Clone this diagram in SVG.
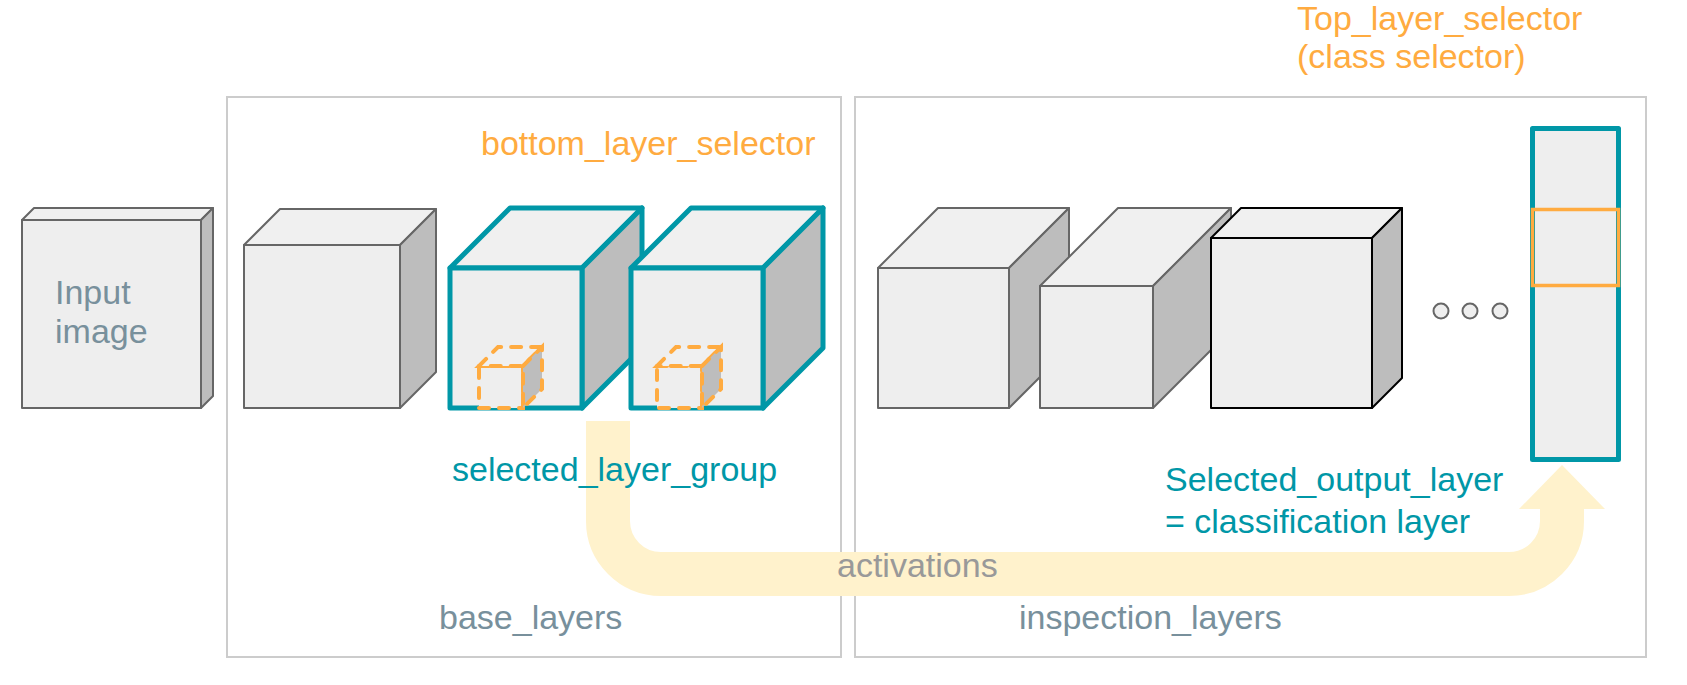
<svg xmlns="http://www.w3.org/2000/svg" width="1687" height="685" viewBox="0 0 1687 685">
<style>
.t{font-family:"Liberation Sans",Arial,sans-serif;font-size:34px}
.bg{fill:#78909c}
.or{fill:#ffab40}
.tl{fill:#0097a7}
.gy{fill:#999999}
.frame{fill:none;stroke:#cccccc;stroke-width:2}
.cg{stroke:#666666;stroke-width:2;stroke-linejoin:round}
.ck{stroke:#000000;stroke-width:2;stroke-linejoin:round}
.ct{stroke:#0097a7;stroke-width:5;stroke-linejoin:round}
.cd{stroke:#ffab40;stroke-width:4;stroke-dasharray:10 10;stroke-linecap:round}
.fr{fill:#eeeeee}
.tp{fill:#f0f0f0}
.sd{fill:#bdbdbd}
</style>
<rect width="1687" height="685" fill="#ffffff"/>
<g id="base_layers_frame"><rect class="frame" x="227" y="97" width="614" height="560"/></g>
<g id="inspection_layers_frame"><rect class="frame" x="855" y="97" width="791" height="560"/></g>
<g id="connectors">
<path d="M608,421 V521 A53,53 0 0 0 661,574 H1509 A53,53 0 0 0 1562,521 V508" fill="none" stroke="#fff2cc" stroke-width="44"/>
<polygon points="1519,509 1562,465 1605,509" fill="#fff2cc"/>
</g>
<g id="input_image" class="cg">
<rect class="fr" x="22" y="220" width="179" height="188"/>
<polygon class="tp" points="22,220 34,208 213,208 201,220"/>
<polygon class="sd" points="201,220 213,208 213,396 201,408"/>
</g>
<g id="base_cube" class="cg">
<rect class="fr" x="244" y="245" width="156" height="163"/>
<polygon class="tp" points="244,245 280,209 436,209 400,245"/>
<polygon class="sd" points="400,245 436,209 436,372 400,408"/>
</g>
<g id="selected_cube_1" class="ct">
<polygon class="tp" points="450,268 510,208 642,208 582,268"/>
<polygon class="sd" points="582,268 642,208 642,348 582,408"/>
<rect class="fr" x="450" y="268" width="132" height="140"/>
</g>
<g id="selector_cube_1" class="cd">
<rect class="fr" x="479" y="366" width="44" height="42"/>
<polygon class="tp" points="479,366 498,347 542,347 523,366"/>
<polygon class="sd" points="523,366 542,347 542,389 523,408"/>
</g>
<g id="selected_cube_2" class="ct">
<polygon class="tp" points="631,268 691,208 823,208 763,268"/>
<polygon class="sd" points="763,268 823,208 823,348 763,408"/>
<rect class="fr" x="631" y="268" width="132" height="140"/>
</g>
<g id="selector_cube_2" class="cd">
<rect class="fr" x="657" y="366" width="45" height="42"/>
<polygon class="tp" points="657,366 676,347 721,347 702,366"/>
<polygon class="sd" points="702,366 721,347 721,389 702,408"/>
</g>
<g id="inspection_cube_1" class="cg">
<rect class="fr" x="878" y="268" width="131" height="140"/>
<polygon class="tp" points="878,268 938,208 1069,208 1009,268"/>
<polygon class="sd" points="1009,268 1069,208 1069,348 1009,408"/>
</g>
<g id="inspection_cube_2" class="cg">
<rect class="fr" x="1040" y="286" width="113" height="122"/>
<polygon class="tp" points="1040,286 1118,208 1231,208 1153,286"/>
<polygon class="sd" points="1153,286 1231,208 1231,330 1153,408"/>
</g>
<g id="inspection_cube_3" class="ck">
<rect class="fr" x="1211" y="238" width="161" height="170"/>
<polygon class="tp" points="1211,238 1241,208 1402,208 1372,238"/>
<polygon class="sd" points="1372,238 1402,208 1402,378 1372,408"/>
</g>
<g id="ellipsis" fill="#eeeeee" stroke="#666666" stroke-width="2">
<circle cx="1441" cy="311" r="7.5"/>
<circle cx="1470" cy="311" r="7.5"/>
<circle cx="1500" cy="311" r="7.5"/>
</g>
<g id="output_layer">
<rect x="1532.5" y="128.5" width="86" height="331" fill="#eeeeee" stroke="#0097a7" stroke-width="5" stroke-linejoin="round"/>
<rect x="1532.5" y="209.5" width="86" height="76" fill="none" stroke="#ffab40" stroke-width="3.5"/>
</g>
<g id="labels">
<text class="t bg" x="55" y="304">Input</text>
<text class="t bg" x="55" y="343">image</text>
<text class="t or" x="481" y="155">bottom_layer_selector</text>
<text class="t tl" x="452" y="481">selected_layer_group</text>
<text class="t bg" x="439" y="629">base_layers</text>
<text class="t gy" x="837" y="577">activations</text>
<text class="t bg" x="1019" y="629">inspection_layers</text>
<text class="t tl" x="1165" y="491">Selected_output_layer</text>
<text class="t tl" x="1165" y="533">= classification layer</text>
<text class="t or" x="1297" y="30">Top_layer_selector</text>
<text class="t or" x="1297" y="68">(class selector)</text>
</g>
</svg>
